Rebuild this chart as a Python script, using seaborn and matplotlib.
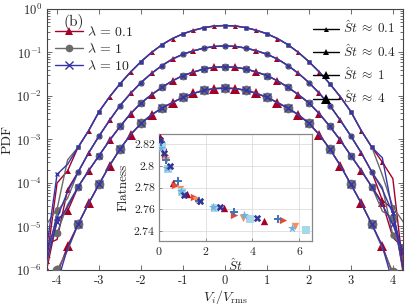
import numpy as np
import pandas as pd
import matplotlib
matplotlib.use("Agg")
import matplotlib.pyplot as plt
import seaborn as sns
from matplotlib.lines import Line2D
from matplotlib.ticker import FixedLocator, FixedFormatter, LogLocator, NullFormatter

# ---------------- data ----------------
V_BINS = [-4.25, -4.0, -3.75, -3.5, -3.25, -3.0, -2.75, -2.5, -2.25, -2.0, -1.75, -1.5, -1.25,
          -1.0, -0.75, -0.5, -0.25, 0.0, 0.25, 0.5, 0.75, 1.0, 1.25, 1.5, 1.75, 2.0, 2.25,
          2.5, 2.75, 3.0, 3.25, 3.5, 3.75, 4.0, 4.25]

# log10(PDF) for each St group (curves are offset by half decades)
LOGPDF_ST01 = [-5.2, -4.3, -3.62, -3.18, -2.80, -2.36, -2.02, -1.72, -1.45, -1.21, -1.00, -0.82, -0.68,
               -0.57, -0.49, -0.43, -0.39, -0.38, -0.39, -0.43, -0.49, -0.57, -0.68, -0.82, -1.00,
               -1.21, -1.45, -1.72, -2.02, -2.36, -2.80, -3.18, -3.62, -4.3, -5.2]
LOGPDF_ST04 = [-5.7, -4.9, -4.25, -3.75, -3.31, -2.92, -2.56, -2.22, -1.94, -1.69, -1.48, -1.30, -1.15,
               -1.04, -0.96, -0.90, -0.86, -0.85, -0.86, -0.90, -0.96, -1.04, -1.15, -1.30, -1.48,
               -1.69, -1.94, -2.22, -2.56, -2.92, -3.31, -3.75, -4.25, -4.9, -5.7]
LOGPDF_ST1 = [-5.7, -5.05, -4.55, -4.09, -3.72, -3.37, -3.02, -2.70, -2.41, -2.16, -1.97, -1.80, -1.65,
              -1.53, -1.45, -1.38, -1.34, -1.33, -1.34, -1.38, -1.45, -1.53, -1.65, -1.80, -1.97,
              -2.16, -2.41, -2.70, -3.02, -3.37, -3.72, -4.09, -4.55, -5.05, -5.7]
LOGPDF_ST4 = [-7.0, -6.2, -5.50, -4.95, -4.47, -4.03, -3.60, -3.22, -2.89, -2.63, -2.43, -2.28, -2.15,
              -2.03, -1.94, -1.87, -1.83, -1.82, -1.83, -1.87, -1.94, -2.03, -2.15, -2.28, -2.43,
              -2.63, -2.89, -3.22, -3.60, -4.03, -4.47, -4.95, -5.50, -6.2, -7.0]

# deviations of each lambda curve in the three outermost bins on each side (noisy tails)
TAIL_DEV_ST01 = [[-0.6, 0.30, -0.10, 0.10, 0.40, -0.8],
                 [0.25, -0.30, 0.15, -0.20, -0.25, 0.3],
                 [-0.3, 0.50, 0.05, 0.20, -0.40, -0.5]]
TAIL_DEV_ST04 = [[0.3, -0.40, 0.10, -0.15, 0.30, -0.4],
                 [-0.2, 0.25, -0.10, 0.15, -0.30, 0.2],
                 [0.1, 0.10, 0.05, 0.10, 0.20, -0.3]]
TAIL_DEV_ST1 = [[-0.3, 0.20, -0.10, 0.10, -0.20, 0.2],
                [0.3, -0.10, 0.05, -0.10, 0.25, -0.3],
                [-0.1, 0.15, 0.00, 0.05, 0.10, 0.1]]
TAIL_DEV_ST4 = [[0.2, 0.10, 0.05, 0.05, 0.10, 0.2],
                [0.1, 0.20, -0.05, 0.00, 0.15, 0.3],
                [0.0, -0.10, 0.00, 0.05, -0.10, 0.0]]

ST_LABELS = [r"$\hat{S}t\;\approx\;0.1$", r"$\hat{S}t\;\approx\;0.4$",
             r"$\hat{S}t\;\approx\;1$", r"$\hat{S}t\;\approx\;4$"]
LAMBDA_LABELS = [r"$\lambda\,=\,0.1$", r"$\lambda\,=\,1$", r"$\lambda\,=\,10$"]

# inset: flatness vs St
INS_ST_1 = [0.05, 0.15, 0.6, 1.2, 2.8, 4.5]
INS_F_1 = [2.826, 2.818, 2.784, 2.774, 2.761, 2.749]
INS_ST_2 = [0.08, 0.25, 0.7, 1.5, 3.2, 5.3]
INS_F_2 = [2.822, 2.810, 2.782, 2.771, 2.755, 2.750]
INS_ST_3 = [0.1, 0.3, 0.9, 1.6, 3.6, 5.8]
INS_F_3 = [2.820, 2.805, 2.779, 2.769, 2.752, 2.745]
INS_ST_4 = [0.12, 0.4, 1.0, 2.4, 3.9, 6.3]
INS_F_4 = [2.818, 2.797, 2.776, 2.761, 2.751, 2.741]
INS_ST_5 = [0.1, 0.35, 0.95, 2.3, 3.65, 5.7]
INS_F_5 = [2.816, 2.798, 2.777, 2.762, 2.755, 2.743]
INS_ST_6 = [0.07, 0.3, 0.8, 1.7, 3.2, 5.1]
INS_F_6 = [2.822, 2.805, 2.786, 2.768, 2.758, 2.751]
INS_ST_7 = [0.05, 0.2, 0.45, 1.05, 1.75, 2.6, 4.2]
INS_F_7 = [2.824, 2.812, 2.800, 2.773, 2.768, 2.762, 2.752]

X_TICKS = [-4, -3, -2, -1, 0, 1, 2, 3, 4]
X_TICKLABELS = ["-4", "-3", "-2", "-1", "0", "1", "2", "3", "4"]
INS_XTICKS = [0, 2, 4, 6]
INS_YTICKS = [2.74, 2.76, 2.78, 2.80, 2.82]
INS_YTICKLABELS = ["2.74", "2.76", "2.78", "2.8", "2.82"]

# ---------------- style ----------------
sns.set_theme(style="ticks")
plt.rcParams["font.family"] = ["cmr10", "DejaVu Serif"]
plt.rcParams["mathtext.fontset"] = "cm"
plt.rcParams["axes.formatter.use_mathtext"] = True
plt.rcParams["axes.unicode_minus"] = False

RED = "#a50026"
GRAY = "#6a6a6a"
BLUE = "#3535a8"
LAM_COLORS = [RED, GRAY, BLUE]
LAM_MARKERS = ["^", "o", "x"]
ST_MS = [3.6, 4.6, 5.6, 7.0]

fig = plt.figure(figsize=(4.07, 3.08), dpi=100)
ax = fig.add_axes([0.1155, 0.1234, 0.8745, 0.8474])

curves = [(LOGPDF_ST01, TAIL_DEV_ST01), (LOGPDF_ST04, TAIL_DEV_ST04),
          (LOGPDF_ST1, TAIL_DEV_ST1), (LOGPDF_ST4, TAIL_DEV_ST4)]
tail_idx = [0, 1, 2, 32, 33, 34]
mark_every = [(0, 2), (1, 2), (1, 2)]

for si, (logp, devs) in enumerate(curves):
    for li in range(3):
        vals = np.array(logp, dtype=float)
        vals[tail_idx] += np.array(devs[li])
        df = pd.DataFrame({"v": V_BINS, "pdf": 10.0 ** vals})
        ms = ST_MS[si] if li != 2 else ST_MS[si] * 0.75
        col = LAM_COLORS[li]
        sns.lineplot(data=df, x="v", y="pdf", ax=ax, color=col, lw=1.0,
                     marker=LAM_MARKERS[li], markersize=ms, markevery=mark_every[li],
                     markerfacecolor=col, markeredgecolor=col,
                     markeredgewidth=1.0 if li == 2 else 0, estimator=None, sort=False,
                     zorder=2 + li)

ax.set_yscale("log")
ax.set_ylim(1e-6, 1)
ax.set_xlim(-4.24, 4.24)
ax.xaxis.set_major_locator(FixedLocator(X_TICKS))
ax.xaxis.set_major_formatter(FixedFormatter(X_TICKLABELS))
ax.yaxis.set_major_locator(LogLocator(base=10, numticks=10))
ax.yaxis.set_minor_locator(LogLocator(base=10, subs=np.arange(2, 10), numticks=20))
ax.yaxis.set_minor_formatter(NullFormatter())
ax.tick_params(which="both", direction="in", top=True, right=True, labelsize=9,
               color="#555555", width=0.6)
ax.tick_params(which="major", length=3.5)
ax.tick_params(which="minor", length=2)
for sp in ax.spines.values():
    sp.set_color("#444444")
    sp.set_linewidth(0.8)
ax.set_xlabel(r"$V_i/V_{\rm rms}$", fontsize=10, labelpad=1)
ax.set_ylabel("PDF", fontsize=10, labelpad=2)

ax.text(0.075, 0.95, "(b)", transform=ax.transAxes, fontsize=11, ha="center", va="center")

lam_handles = [Line2D([], [], color=c, marker=m, lw=1.0, markersize=5.5,
                      markerfacecolor=c, markeredgecolor=c,
                      markeredgewidth=1.0 if m == "x" else 0)
               for c, m in zip(LAM_COLORS, LAM_MARKERS)]
leg1 = ax.legend(lam_handles, LAMBDA_LABELS, loc="upper left", bbox_to_anchor=(-0.005, 0.975),
                 frameon=False, fontsize=10, handlelength=2.0, handletextpad=0.3,
                 labelspacing=0.2, borderpad=0.2)
ax.add_artist(leg1)
st_handles = [Line2D([], [], color="black", marker="^", lw=1.0, markersize=ms,
                     markeredgewidth=0) for ms in ST_MS]
ax.legend(st_handles, ST_LABELS, loc="upper right", bbox_to_anchor=(1.01, 1.0),
          frameon=False, fontsize=9.5, handlelength=2.0, handletextpad=0.3,
          labelspacing=0.5, borderpad=0.3)

# ---------------- inset ----------------
ins = fig.add_axes([0.3907, 0.2175, 0.376, 0.347])
ins.set_facecolor("white")
inset_series = [
    (INS_ST_1, INS_F_1, "#a50026", "^"),
    (INS_ST_2, INS_F_2, "#e34a33", ">"),
    (INS_ST_3, INS_F_3, "#fc8d59", "v"),
    (INS_ST_4, INS_F_4, "#a6d8ea", "s"),
    (INS_ST_5, INS_F_5, "#6fb0e0", "*"),
    (INS_ST_6, INS_F_6, "#4575b4", "P"),
    (INS_ST_7, INS_F_7, "#313695", "X"),
]
for st, fl, col, mk in inset_series:
    sns.scatterplot(x=st, y=fl, ax=ins, color=col, marker=mk, s=28 if mk != "*" else 48,
                    linewidth=0, zorder=3)
ins.set_xlim(0, 6.55)
ins.set_ylim(2.731, 2.829)
ins.xaxis.set_major_locator(FixedLocator(INS_XTICKS))
ins.yaxis.set_major_locator(FixedLocator(INS_YTICKS))
ins.yaxis.set_major_formatter(FixedFormatter(INS_YTICKLABELS))
ins.grid(True, color="#dddddd", lw=0.6)
ins.tick_params(direction="in", labelsize=8.5, length=2.5, color="#777777", width=0.6, pad=3)
for sp in ins.spines.values():
    sp.set_color("#888888")
    sp.set_linewidth(0.9)
ins.set_xlabel(r"$\hat{S}t$", fontsize=9.5, labelpad=0)
ins.set_ylabel("Flatness", fontsize=9.5, labelpad=3)

fig.savefig("out.png", dpi=100)
